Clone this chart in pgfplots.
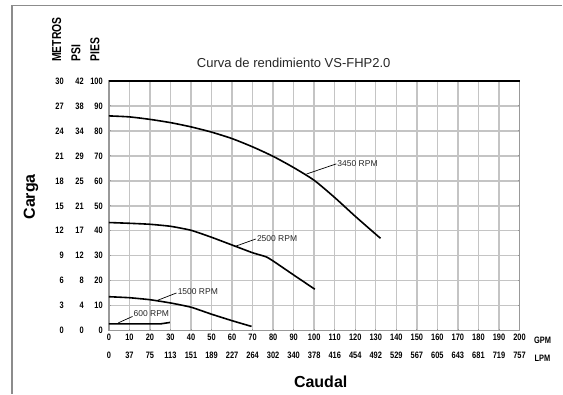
\documentclass[border=0pt]{standalone}
\usepackage{pgfplots}
\pgfplotsset{compat=1.18}
\usepackage{fontspec}
\setmainfont{Liberation Sans}
\newfontfamily\nb[FakeStretch=0.8]{Liberation Sans}
\definecolor{gridc}{HTML}{C4C4C4}
\definecolor{axc}{HTML}{999999}
\definecolor{framec}{HTML}{8C8C8C}
\newcommand{\tlf}{\nb\bfseries\fontsize{9.3}{11}\selectfont}
\newcommand{\yl}[3]{\makebox[14pt][r]{#1}\makebox[20pt][r]{#2}\makebox[19pt][r]{#3}}
\begin{document}
\begin{tikzpicture}
\path (0,0) rectangle (563pt,394pt);
\draw[framec, line width=1.3pt] (12pt,0pt) -- (12pt,388.3pt) -- (562.9pt,388.3pt);
\begin{axis}[
 at={(109pt,63pt)}, anchor=south west, scale only axis, width=411pt, height=250pt,
 xmin=0,xmax=200,ymin=0,ymax=100,
 xtick={0,10,...,200}, ytick={0,10,...,100},
 grid=major,
 grid style={draw=gridc, line width=1.4pt},
 axis line style={draw=axc, line width=1.4pt},
 tick style={draw=axc, line width=0.8pt},
 major tick length=2pt,
 xtick pos=left, ytick pos=both,
 clip=false,
 xticklabel style={align=center, font=\tlf, anchor=north, inner sep=0pt, yshift=-3pt},
 yticklabel style={font=\tlf, anchor=east, inner sep=0pt, xshift=-6pt},
 xticklabels={{0\\[7pt]0},{10\\[7pt]37},{20\\[7pt]75},{30\\[7pt]113},{40\\[7pt]151},{50\\[7pt]189},{60\\[7pt]227},{70\\[7pt]264},{80\\[7pt]302},{90\\[7pt]340},{100\\[7pt]378},{110\\[7pt]416},{120\\[7pt]454},{130\\[7pt]492},{140\\[7pt]529},{150\\[7pt]567},{160\\[7pt]605},{170\\[7pt]643},{180\\[7pt]681},{190\\[7pt]719},{200\\[7pt]757}},
 yticklabels={{\yl{0}{0}{0}},{\yl{3}{4}{10}},{\yl{6}{8}{20}},{\yl{9}{12}{30}},{\yl{12}{17}{40}},{\yl{15}{21}{50}},{\yl{18}{25}{60}},{\yl{21}{29}{70}},{\yl{24}{34}{80}},{\yl{27}{38}{90}},{\yl{30}{42}{100}}},
]
\draw[black, line width=1.3pt] (rel axis cs:0,1) -- (rel axis cs:1,1);
\addplot[black, line width=1.6pt, smooth, tension=0.4] coordinates {(0,86) (10,85.6) (20,84.6) (30,83.3) (40,81.6) (50,79.5) (60,76.9) (70,73.6) (80,69.8) (90,65.3) (100,60.2) (110,53.3) (120,45.8) (130,38.6) (132.3,37)};
\addplot[black, line width=1.6pt, smooth, tension=0.3] coordinates {(0,43.3) (10,43) (20,42.6) (30,41.8) (40,40.2) (50,37.4) (60,34.3) (70,31.2) (76.5,29.6) (80,27.9) (90,22.3) (100.3,16.6)};
\addplot[black, line width=1.6pt, smooth, tension=0.3] coordinates {(0,13.6) (10,13.2) (20,12.4) (30,11.1) (40,9.4) (50,6.6) (60,4.0) (69.5,1.7)};
\addplot[black, line width=1.6pt, line join=round] coordinates {(0,2.7) (25,2.7) (29.7,3.3)};
\addplot[black, line width=0.7pt] coordinates {(96.2,62.7) (110.8,66.8)};
\addplot[black, line width=0.7pt] coordinates {(61.3,33.7) (71.5,36.7)};
\addplot[black, line width=0.7pt] coordinates {(23.2,12) (32.9,15.1)};
\addplot[black, line width=0.7pt] coordinates {(4.5,3.1) (11.5,5.7)};
\node[anchor=west, inner sep=0.5pt, font=\fontsize{8.5}{10}\selectfont, text=black!85] at (axis cs:111,66.8) {3450 RPM};
\node[anchor=west, inner sep=0.5pt, font=\fontsize{8.5}{10}\selectfont, text=black!85] at (axis cs:71.8,36.8) {2500 RPM};
\node[anchor=west, inner sep=0.5pt, font=\fontsize{8.5}{10}\selectfont, text=black!85] at (axis cs:33.2,15.5) {1500 RPM};
\node[anchor=west, inner sep=0.5pt, font=\fontsize{8.5}{10}\selectfont, text=black!85] at (axis cs:11.7,6.7) {600 RPM};
\end{axis}
\node[rotate=90, anchor=west, inner sep=0pt, font=\nb\bfseries\fontsize{13}{14}\selectfont] at (56.7pt,332pt) {METROS};
\node[rotate=90, anchor=west, inner sep=0pt, font=\nb\bfseries\fontsize{13}{14}\selectfont] at (76pt,332pt) {PSI};
\node[rotate=90, anchor=west, inner sep=0pt, font=\nb\bfseries\fontsize{13}{14}\selectfont] at (95pt,332pt) {PIES};
\node[rotate=90, font=\bfseries\fontsize{16}{18}\selectfont] at (31pt,197pt) {Carga};
\node[font=\bfseries\fontsize{16}{18}\selectfont] at (321pt,12pt) {Caudal};
\node[font=\fontsize{13}{15}\selectfont, text=black!85] at (294pt,330.7pt) {Curva de rendimiento VS-FHP2.0};
\node[font=\tlf] at (543pt,53pt) {GPM};
\node[font=\tlf] at (543pt,35pt) {LPM};
\end{tikzpicture}
\end{document}
